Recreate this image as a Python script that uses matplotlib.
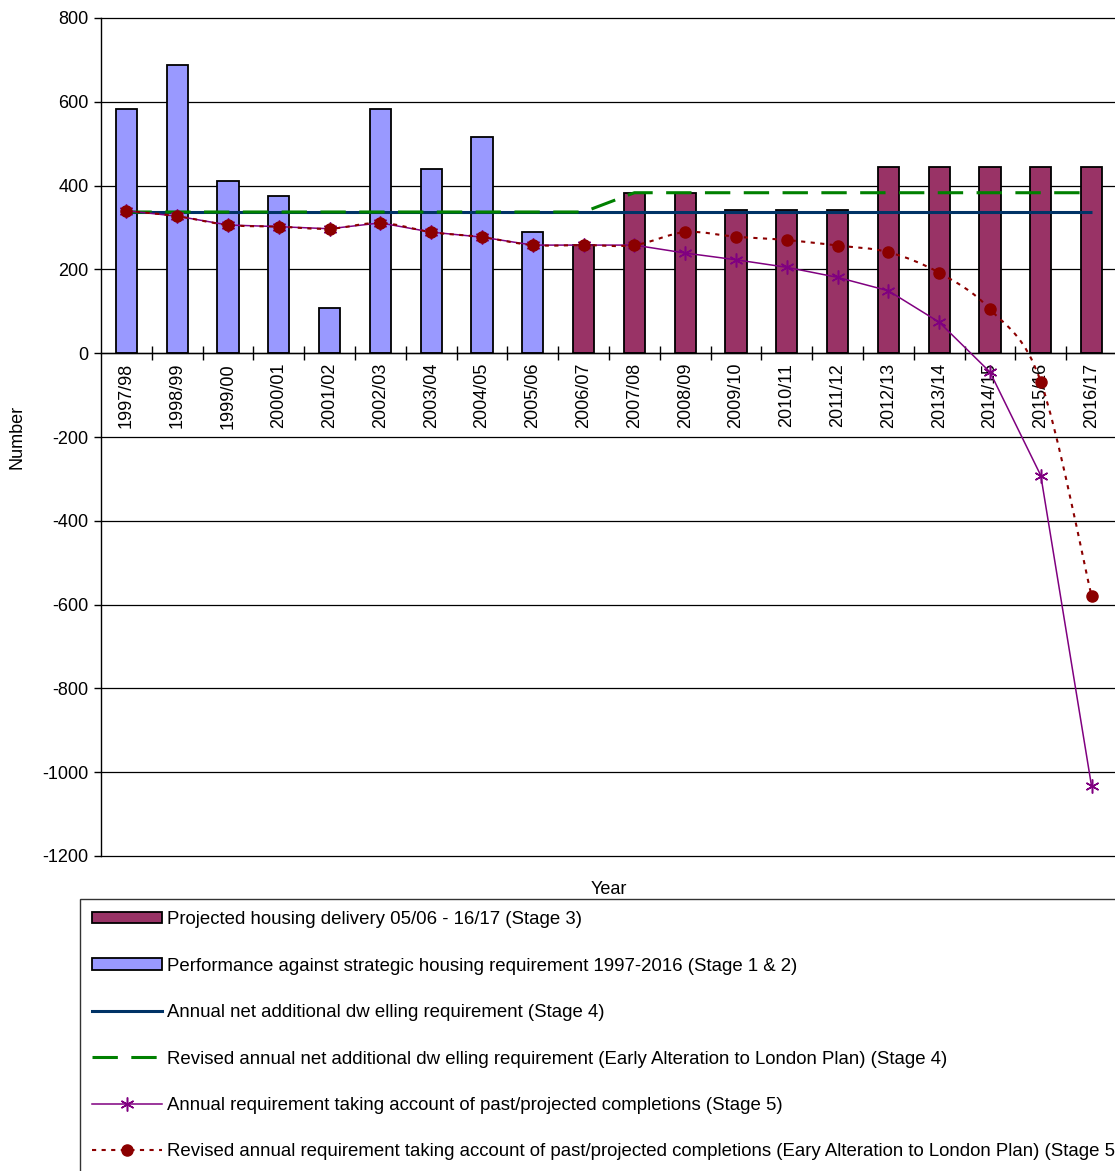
import matplotlib
matplotlib.use('Agg')
import matplotlib.pyplot as plt
from matplotlib.path import Path
from matplotlib.patches import PathPatch, Patch
from matplotlib.lines import Line2D

plt.rcParams['font.family'] = ['Liberation Sans', 'DejaVu Sans']
plt.rcParams['axes.unicode_minus'] = False

years = ['1997/98', '1998/99', '1999/00', '2000/01', '2001/02', '2002/03', '2003/04',
         '2004/05', '2005/06', '2006/07', '2007/08', '2008/09', '2009/10', '2010/11',
         '2011/12', '2012/13', '2013/14', '2014/15', '2015/16', '2016/17']
performance_years = years[:9]
performance = [582, 687, 411, 375, 107, 582, 440, 515, 289]
projected_years = years[9:]
projected = [258, 383, 383, 341, 341, 341, 445, 445, 445, 445, 445]
requirement = [337, 337, 337, 337, 337, 337, 337, 337, 337, 337,
               337, 337, 337, 337, 337, 337, 337, 337, 337, 337]
revised_requirement = [337, 337, 337, 337, 337, 337, 337, 337, 337, 337,
                       383, 383, 383, 383, 383, 383, 383, 383, 383, 383]
annual_req = [340, 327, 306, 302, 297, 311, 289, 277, 258, 258,
              258, 239, 223, 205, 181, 149, 74, -45, -292, -1034]
revised_annual_req = [340, 327, 306, 302, 297, 311, 289, 277, 258, 258,
                      258, 289, 278, 270, 257, 241, 192, 105, -68, -580]

labels = ['Projected housing delivery 05/06 - 16/17 (Stage 3)',
          'Performance against strategic housing requirement 1997-2016 (Stage 1 & 2)',
          'Annual net additional dw elling requirement (Stage 4)',
          'Revised annual net additional dw elling requirement (Early Alteration to London Plan) (Stage 4)',
          'Annual requirement taking account of past/projected completions (Stage 5)',
          'Revised annual requirement taking account of past/projected completions (Eary Alteration to London Plan) (Stage 5)']

W, H = 1115, 1171
fig = plt.figure(figsize=(W / 100, H / 100), dpi=100)
ax = fig.add_axes([101 / W, 1 - 856 / H, (1117 - 101) / W, (856 - 18) / H])

pos = {y: i for i, y in enumerate(years)}
xs = list(range(len(years)))

blue = '#9999FF'
maroon = '#993366'
navy = '#003366'
green = '#008000'
purple = '#800080'
red = '#8B0000'
red_ls = (0, (2.0, 2.6))

ax.bar([pos[y] for y in performance_years], performance, width=0.42, color=blue,
       edgecolor='black', linewidth=1.3, zorder=2)
ax.bar([pos[y] for y in projected_years], projected, width=0.42, color=maroon,
       edgecolor='black', linewidth=1.3, zorder=2)

ax.plot(xs, requirement, color=navy, lw=2.2, zorder=3, solid_capstyle='butt')
ax.plot(xs, revised_requirement, color=green, lw=2.2, dashes=(8.3, 4.4), zorder=4)
ax.plot(xs, annual_req, color=purple, lw=1.1, marker=(6, 2, 0), markersize=10,
        markeredgewidth=1.1, markeredgecolor=purple, zorder=5)


def smooth_path(x, y):
    verts = [(x[0], y[0])]
    codes = [Path.MOVETO]
    n = len(x)
    for i in range(n - 1):
        xp, yp = (x[i - 1], y[i - 1]) if i > 0 else (x[i], y[i])
        xn, yn = (x[i + 2], y[i + 2]) if i + 2 < n else (x[i + 1], y[i + 1])
        c1 = (x[i] + (x[i + 1] - xp) / 6, y[i] + (y[i + 1] - yp) / 6)
        c2 = (x[i + 1] - (xn - x[i]) / 6, y[i + 1] - (yn - y[i]) / 6)
        verts += [c1, c2, (x[i + 1], y[i + 1])]
        codes += [Path.CURVE4] * 3
    return Path(verts, codes)


ax.add_patch(PathPatch(smooth_path(xs, revised_annual_req), fill=False, edgecolor=red,
                       lw=1.5, linestyle=red_ls, zorder=6))
ax.plot(xs, revised_annual_req, linestyle='none', marker='o', markersize=8,
        color=red, zorder=7)

ax.set_xlim(-0.5, len(years) - 0.5)
ax.set_ylim(-1200, 800)
ax.set_yticks(range(-1200, 801, 200))
ax.yaxis.grid(True, color='black', lw=0.9, zorder=0)
ax.set_axisbelow(True)
for gl in ax.get_ygridlines():
    gl.set_clip_on(False)
for s in ['top', 'right']:
    ax.spines[s].set_visible(False)
ax.spines['left'].set_linewidth(1.0)
ax.spines['bottom'].set_position(('data', 0))
ax.spines['bottom'].set_linewidth(1.0)
ax.tick_params(axis='y', direction='out', length=5, width=1, labelsize=13, pad=4)

ax.set_xticks([i + 0.5 for i in range(len(years) - 1)])
ax.set_xticklabels([])
ax.tick_params(axis='x', which='major', direction='inout', length=10, width=1)
ax.set_xticks(xs, minor=True)
ax.set_xticklabels(years, minor=True, rotation=90, fontsize=13, va='top')
ax.tick_params(axis='x', which='minor', length=0, pad=7)

fig.text(609 / W, 1 - 890 / H, 'Year', ha='center', va='center', fontsize=13)
fig.text(17 / W, 1 - 437 / H, 'Number', ha='center', va='center', rotation=90, fontsize=13)

handles = [
    Patch(facecolor=maroon, edgecolor='black', linewidth=1.3),
    Patch(facecolor=blue, edgecolor='black', linewidth=1.3),
    Line2D([], [], color=navy, lw=2.2),
    Line2D([], [], color=green, lw=2.2, dashes=(8.3, 4.4)),
    Line2D([], [], color=purple, lw=1.1, marker=(6, 2, 0), markersize=10,
           markeredgewidth=1.1),
    Line2D([], [], color=red, lw=1.5, linestyle=red_ls, marker='o', markersize=8),
]
leg = fig.legend(handles, labels, loc='upper left', bbox_to_anchor=(80 / W, 1 - 899 / H),
                 borderaxespad=0, fontsize=13.4, frameon=True, fancybox=False,
                 edgecolor='black', handlelength=3.75, handleheight=0.55,
                 handletextpad=0.27, labelspacing=1.58, borderpad=0.66, numpoints=1)
leg.get_frame().set_linewidth(1.0)

fig.savefig('out.png', dpi=100)
